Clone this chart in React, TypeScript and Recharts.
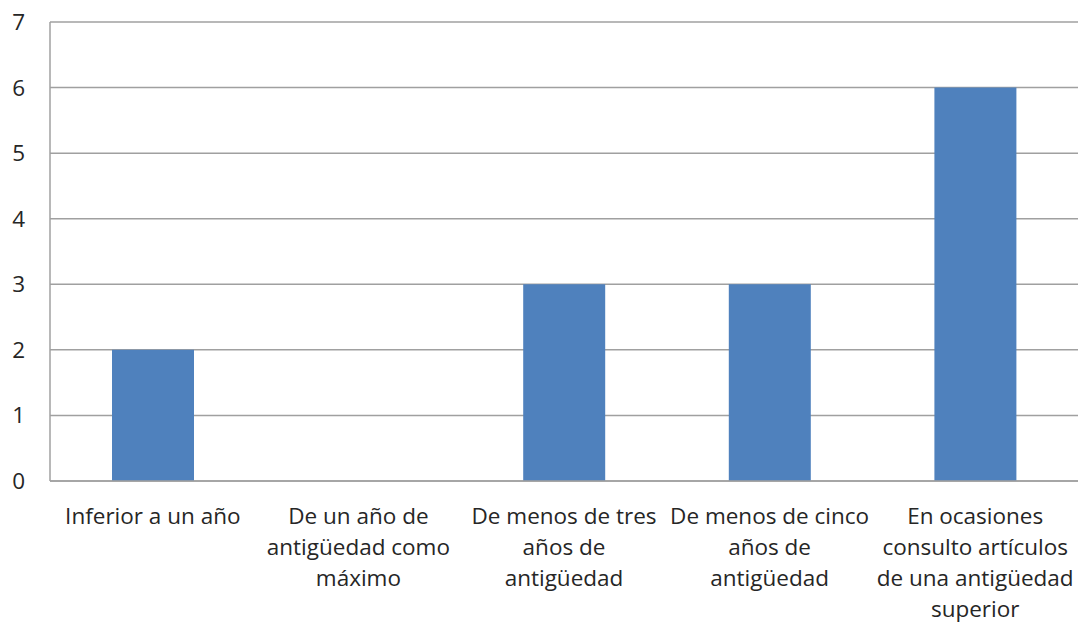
import React from 'react';
import { BarChart, Bar, XAxis, YAxis, CartesianGrid } from 'recharts';

const categories = [
  'Inferior a un año',
  'De un año de\nantigüedad como\nmáximo',
  'De menos de tres\naños de\nantigüedad',
  'De menos de cinco\naños de\nantigüedad',
  'En ocasiones\nconsulto artículos\nde una antigüedad\nsuperior',
];
const values = [2, 0, 3, 3, 6];
const yTicks = [0, 1, 2, 3, 4, 5, 6, 7];

const data = categories.map((name, i) => ({ name, value: values[i] }));

const FONT = '"Open Sans", sans-serif';
const TEXT = '#262626';
const GRID = '#a0a0a0';

function CategoryTick(props: any) {
  const { x, y, payload } = props;
  const lines = String(payload.value).split('\n');
  return (
    <text x={x} y={y} textAnchor="middle" fill={TEXT} fontSize={22.5} fontFamily={FONT}>
      {lines.map((l, i) => (
        <tspan key={i} x={x} dy={i === 0 ? 35 : 31}>{l}</tspan>
      ))}
    </text>
  );
}

export default function App() {
  return (
    <div style={{ position: 'absolute', left: 0, top: 0, width: 1079, height: 623, background: '#fff' }}>
      <BarChart width={1079} height={623} data={data} margin={{ top: 22, right: 1, left: 0, bottom: 0 }}>
        <CartesianGrid vertical={false} stroke={GRID} strokeWidth={1.5} />
        <XAxis
          dataKey="name"
          interval={0}
          height={142}
          tickLine={false}
          axisLine={{ stroke: GRID, strokeWidth: 1.5 }}
          tick={<CategoryTick />}
        />
        <YAxis
          domain={[0, 7]}
          ticks={yTicks}
          width={50}
          tickLine={false}
          tickMargin={19}
          axisLine={{ stroke: GRID, strokeWidth: 1.5 }}
          tick={{ fill: TEXT, fontSize: 22.5, fontFamily: FONT }}
        />
        <Bar dataKey="value" fill="#4f81bd" barSize={82} isAnimationActive={false} />
      </BarChart>
    </div>
  );
}
